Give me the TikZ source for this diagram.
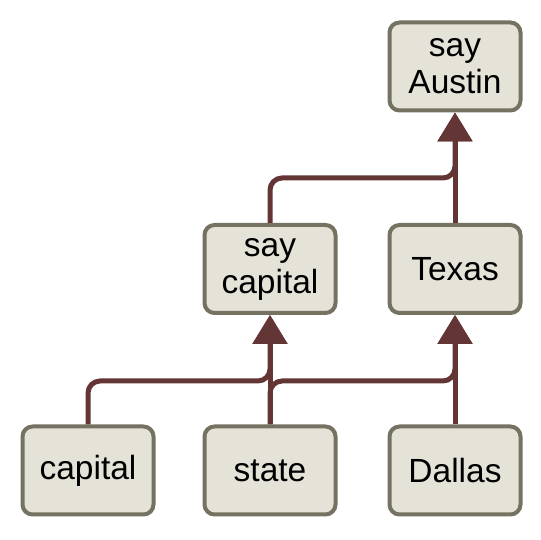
\documentclass[tikz,border=0pt]{standalone}
\usepackage{fontspec}
\setmainfont{Liberation Sans}
\usetikzlibrary{arrows.meta}
\definecolor{boxfill}{HTML}{E5E2D8}
\definecolor{boxdraw}{HTML}{757262}
\definecolor{edgecol}{HTML}{633535}
\tikzset{
  wordbox/.style={draw=boxdraw, fill=boxfill, line width=4pt, rounded corners=10pt,
    minimum width=131pt, minimum height=88pt, inner sep=0pt, align=center,
    font=\fontsize{33.5}{37}\selectfont, text=black},
  edge/.style={draw=edgecol, line width=5pt, rounded corners=12pt,
    -{Triangle[length=29pt,width=34pt]}}
}
\begin{document}
\begin{tikzpicture}[x=1pt,y=1pt]
\useasboundingbox (0,0) rectangle (540,540);
\node[wordbox] (sayAustin) at (455,473.5) {say\\Austin};
\node[wordbox] (sayCapital) at (270,271) {say\\capital};
\node[wordbox] (Texas) at (455,271) {Texas};
\node[wordbox] (capital) at (88,69.5) {capital};
\node[wordbox] (state) at (270,69.5) {state};
\node[wordbox] (Dallas) at (455,69.5) {Dallas};
\coordinate (lowbus) at (0,159);
\coordinate (highbus) at (0,362);
\draw[edge] (capital.north) |- (lowbus -| sayCapital.south) -- (sayCapital.south);
\draw[edge] (state.north) |- (lowbus -| Texas.south) -- (Texas.south);
\draw[edge] (state.north) -- (sayCapital.south);
\draw[edge] (Dallas.north) -- (Texas.south);
\draw[edge] (sayCapital.north) |- (highbus -| sayAustin.south) -- (sayAustin.south);
\draw[edge] (Texas.north) -- (sayAustin.south);
\end{tikzpicture}
\end{document}
